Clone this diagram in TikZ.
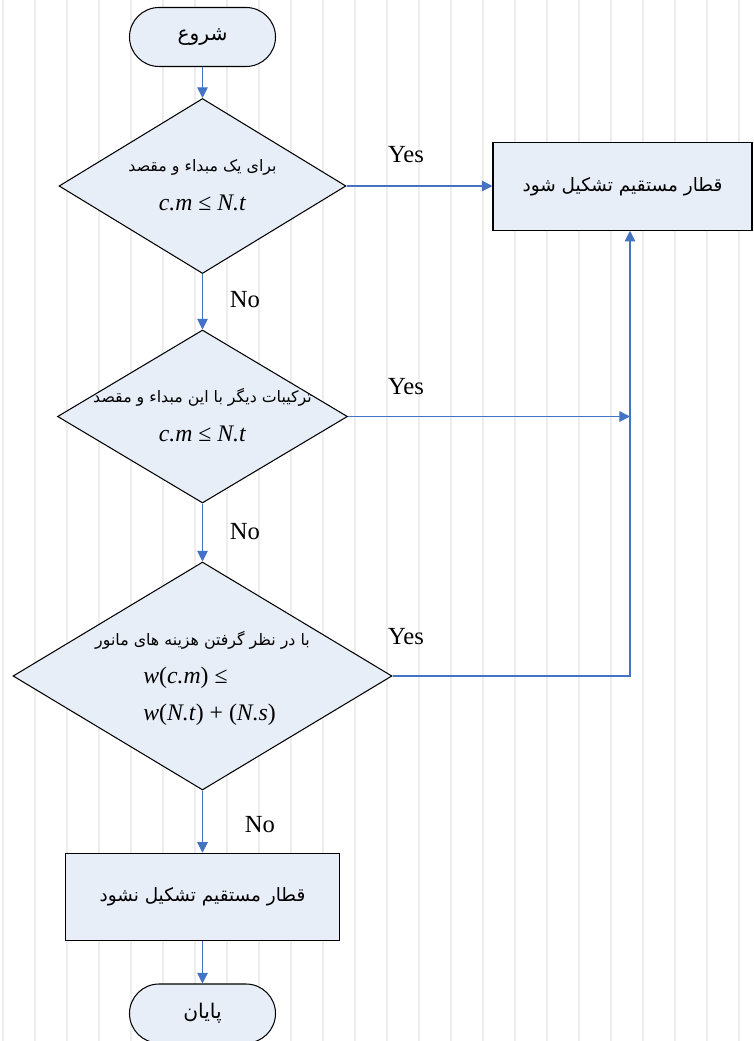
\documentclass[tikz,border=0pt]{standalone}
\usepackage{fontspec}
\setmainfont{Liberation Serif}
\newfontfamily\farsi[Script=Arabic]{DejaVu Sans}
\TeXXeTstate=1
\usetikzlibrary{shapes.geometric,arrows.meta}
\definecolor{boxfill}{RGB}{232,238,248}
\definecolor{linkblue}{RGB}{68,114,196}
\newcommand{\fa}[1]{{\farsi\beginR #1\endR}}
\tikzset{
	term/.style={draw,fill=boxfill,line width=.6pt,rounded corners=.59cm,
		minimum width=2.92cm,minimum height=1.18cm,inner sep=0pt,font=\fontsize{11.5}{13}\selectfont},
	decision/.style={draw,fill=boxfill,line width=.6pt,diamond,inner sep=0pt},
	process/.style={draw,fill=boxfill,line width=.6pt,minimum height=1.75cm,
		inner sep=0pt,font=\fontsize{10.5}{13}\selectfont},
	fatext/.style={font=\fontsize{9}{11}\selectfont,inner sep=0pt},
	mtext/.style={font=\fontsize{13.5}{15}\selectfont,inner sep=0pt},
	answer/.style={font=\fontsize{14}{16}\selectfont,inner sep=0pt},
	link/.style={draw=linkblue,line width=.6pt,-{Triangle[length=6pt,width=6pt]}}
}
\begin{document}
\begin{tikzpicture}
	\useasboundingbox (0,0) rectangle (15.06,-20.82);
	% faint ruled background
	\foreach \k in {0,...,23}
	\draw[black!7,line width=1.2pt] ({.06+.64*\k},0) -- ({.06+.64*\k},-20.82);
	% blocks
	\node[term] (start) at (4.05,-.74) {\fa{شروع}};
	\node[decision,minimum width=5.74cm,minimum height=3.5cm] (d1) at (4.05,-3.72) {};
	\node[process,minimum width=5.18cm] (ok) at (12.45,-3.73) {\fa{قطار مستقیم تشکیل شود}};
	\node[decision,minimum width=5.8cm,minimum height=3.46cm] (d2) at (4.05,-8.33) {};
	\node[decision,minimum width=7.58cm,minimum height=4.56cm] (d3) at (4.05,-13.52) {};
	\node[process,minimum width=5.48cm] (nok) at (4.05,-17.94) {\fa{قطار مستقیم تشکیل نشود}};
	\node[term] (stop) at (4.05,-20.27) {\fa{پایان}};
	% texts inside the diamonds
	\node[fatext] (q1) at ([yshift=.38cm]d1.center) {\fa{برای یک مبداء و مقصد}};
	\node[mtext] (m1) at ([yshift=-.34cm]d1.center) {\textit{c.m} ≤ \textit{N.t}};
	\node[fatext] (q2) at ([yshift=.38cm]d2.center) {\fa{ترکیبات دیگر با این مبداء و مقصد}};
	\node[mtext] (m2) at ([yshift=-.34cm]d2.center) {\textit{c.m} ≤ \textit{N.t}};
	\node[fatext] (q3) at ([yshift=.72cm]d3.center) {\fa{با در نظر گرفتن هزینه های مانور}};
	\node[mtext,anchor=west] (m3) at (2.86,-13.56) {\textit{w}(\textit{c.m}) ≤};
	\node[mtext,anchor=west] (m4) at (2.86,-14.3) {\textit{w}(\textit{N.t}) + (\textit{N.s})};
	% connectors
	\coordinate (join) at (12.6,-8.33);
	\draw[link] (start) -- (d1);
	\draw[link] (d1.east) -- (d1.east -| ok.west);
	\draw[link] (d1) -- (d2);
	\draw[link] (d2.east) -- (d2.east -| join);
	\draw[link] (d2) -- (d3);
	\draw[link] (d3.east) -- (d3.east -| join) -- (join |- ok.south);
	\draw[link] (d3) -- (nok);
	\draw[link] (nok) -- (stop);
	% answers
	\node[answer] (y1) at (8.12,-3.1) {Yes};
	\node[answer] (y2) at (8.12,-7.74) {Yes};
	\node[answer] (y3) at (8.12,-12.74) {Yes};
	\node[answer] (n1) at (4.9,-6.0) {No};
	\node[answer] (n2) at (4.9,-10.64) {No};
	\node[answer] (n3) at (5.2,-16.5) {No};
\end{tikzpicture}
\end{document}
